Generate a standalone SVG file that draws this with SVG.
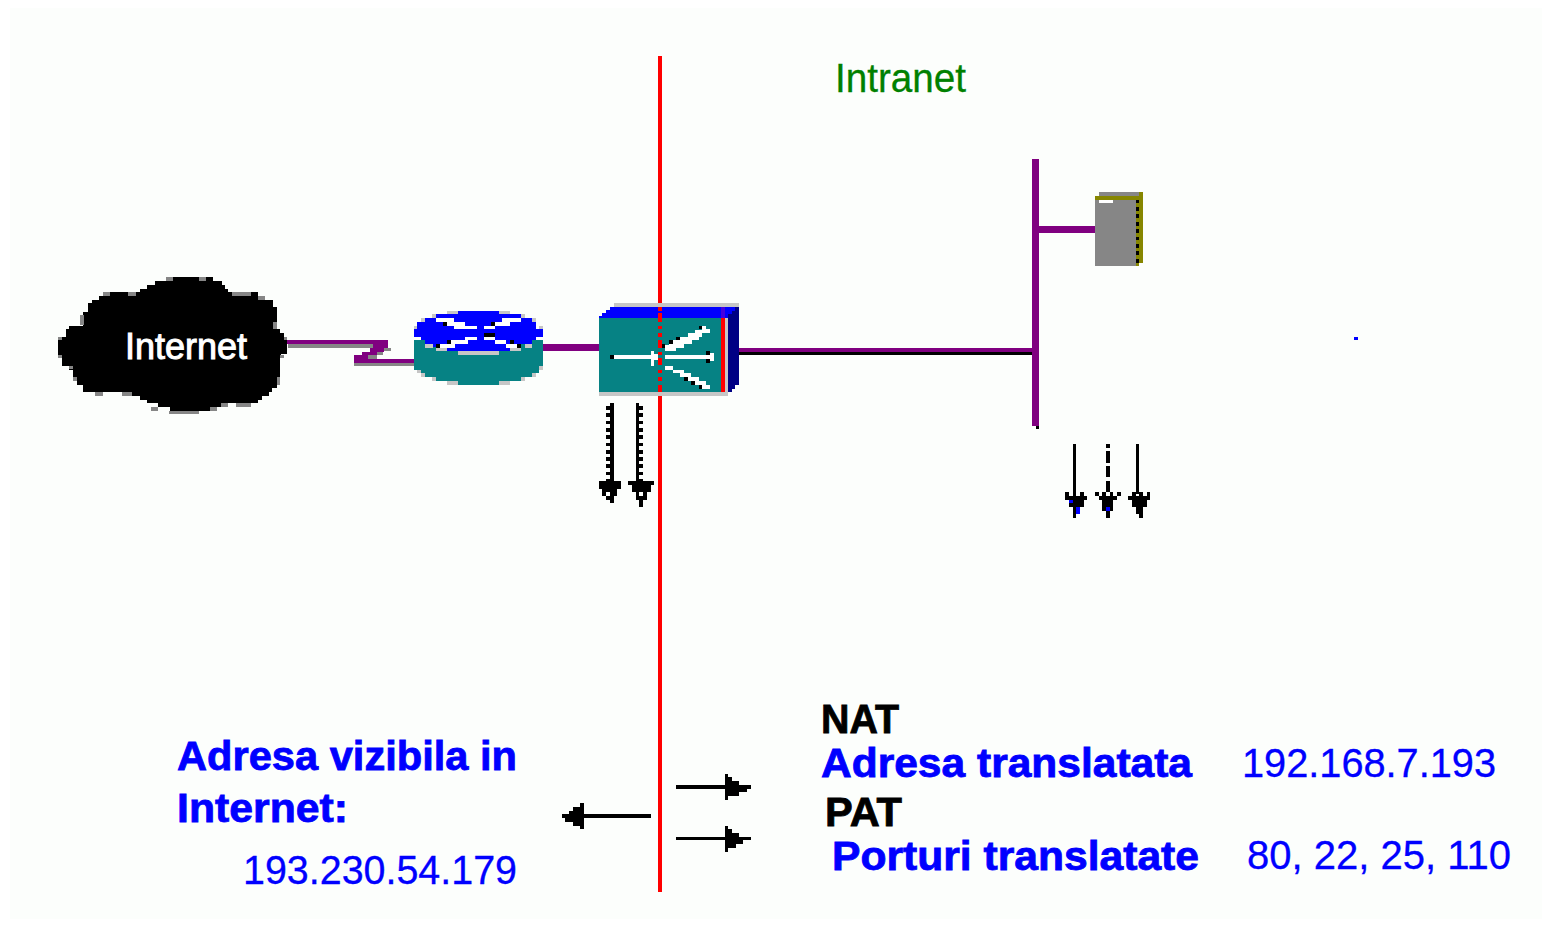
<svg xmlns="http://www.w3.org/2000/svg" width="1544" height="926" viewBox="0 0 1544 926">
<style>
text{font-family:"Liberation Sans",Arial,sans-serif;font-size:40px;white-space:pre}
.b{font-weight:bold;stroke-width:.8px}
.blue{fill:#0000ff}
.d{fill:#0000ff;stroke:#0000ff;stroke-width:.3px}
.bb{fill:#0000ff;stroke:#0000ff}
.k{fill:#000;stroke:#000}
.purple{fill:#800080}
.gray{fill:#868686}
.lg{fill:#c6c6c6}
.teal{fill:#068284}
.bl{fill:#0000ff}
.navy{fill:#000084}
.red{fill:#ff0000}
.olive{fill:#868600}
.blk{fill:#000}
.wf{fill:#fff}
.bg{fill:#fcfefc}
</style>
<rect width="1544" height="926" fill="#ffffff"/>
<rect class="bg" x="10" y="8" width="1532" height="911"/>

<g id="connectors" shape-rendering="crispEdges">
  <rect class="gray" x="288" y="344" width="85" height="4"/>
  <path class="gray" d="M384,348h7v3h-7zM377,352h6v3h-6zM368,355h9v4h-9zM354,363h60v3h-60z"/>
  <path class="purple" d="M284,340H388V348H384V352H377V355H368V359H414V363H354V355H362V352H370V348H373V344H284Z"/>
  <rect class="purple" x="543" y="344" width="56" height="7"/>
  <rect class="purple" x="739" y="348" width="293" height="3.500"/>
  <rect class="blk" x="739" y="351.500" width="293" height="3.500"/>
  <rect class="purple" x="1032" y="159" width="7" height="267"/>
  <rect class="blk" x="1036" y="426" width="3" height="3"/>
  <rect class="purple" x="1039" y="226" width="56" height="7"/>
</g>

<g id="boundary" shape-rendering="crispEdges">
  <rect class="red" x="658" y="56" width="4" height="247"/>
  <rect class="red" x="658" y="396" width="4" height="496"/>
</g>

<g id="cloud">
  <g transform="translate(40 260) scale(.33333)" shape-rendering="crispEdges">
    <path class="blk" d="M55,240H66V230H78V208H88V198H130V155H143V130H155V120H178V108H210V97H300V87H322V75H345V62H380V52H520V62H545V75H555V87H565V97H655V108H675V120H700V140H710V208H720V218H732V240H742V282H722V295H720V375H710V385H697V395H687V408H665V420H655V430H560V440H530V452H390V442H355V430H322V420H300V408H275V395H190V395H130V375H110V350H100V330H88V318H66V295H55Z"/>
    <path class="gray" d="M378,52h22v10h-22zM478,52h20v10h-20zM190,97h20v11h-20zM265,97h23v11h-23zM575,97h57v11h-57zM655,108h20v11h-20zM245,396h30v12h-30zM165,396h23v12h-23zM588,430h44v10h-44zM388,452h89v10h-89zM333,442h21v10h-21zM510,442h20v10h-20zM543,430h20v10h-20zM120,165h11v30h-11zM700,186h10v20h-10zM732,230h10v10h-10zM720,285h11v10h-11zM711,350h9v25h-9zM88,318h11v10h-11zM55,230h11v10h-11zM55,285h11v10h-11zM100,350h10v12h-10z"/>
  </g>
  <text x="125" y="359" fill="#ffffff" stroke="#ffffff" stroke-width="1" textLength="122" lengthAdjust="spacingAndGlyphs" style="font-size:36px">Internet</text>
</g>

<g id="router">
  <g transform="translate(400 290) scale(.33333)" shape-rendering="crispEdges">
    <path class="teal" d="M42,150H429V240H418V250H407V262H363V273H297V285H174V273H108V262H64V250H52V240H42Z"/>
    <path class="bl" d="M174,63H297V72H363V84H396V96H408V118H429V140H408V150H396V162H363V172H330V183H141V172H98V162H75V150H64V140H42V118H52V96H75V84H108V72H174Z"/>
    <path class="lg" d="M141,63h33v9h-33zM297,63h33v9h-33zM97,72h11v12h-11zM363,72h12v12h-12zM64,84h11v12h-11zM396,84h12v12h-12zM42,108h10v10h-10zM418,108h11v10h-11zM75,162h23v12h-23zM375,162h22v12h-22zM108,174h33v9h-33zM330,174h33v9h-33zM174,183h123v12h-123zM141,273h33v12h-33zM297,273h33v12h-33zM97,262h11v11h-11zM363,262h12v11h-12zM64,250h11v11h-11zM396,250h11v11h-11zM52,240h11v10h-11zM418,228h11v12h-11z"/>
    <path class="wf" d="M108,84H162V96H195V108H232V118H162V108H141V96H108ZM362,84V96H330V108H285V118H252V108H285V96H305V84ZM120,162H153V150H195V140H232V150H205V162H165V174H120ZM350,174H318V162H285V150H252V140H285V150H318V162H350Z"/>
    <path class="blk" d="M130,96h11v12h-11zM274,96h11v12h-11zM252,129h33v11h-33zM141,150h12v12h-12zM330,150h12v12h-12zM108,162h12v12h-12zM352,162h12v12h-12z"/>
  </g>
</g>

<g id="firewall" shape-rendering="crispEdges">
  <polygon class="lg" points="614,303 739,303 739,307 614,307"/>
  <polygon class="bl" points="599,318 599,316 602,316 602,313 606,313 606,310 610,310 610,307 739,307 739,318"/>
  <polygon class="navy" points="728,318 728,392 732,392 732,389 735,389 735,385 739,385 739,307 735,307 735,311 732,311 732,314 728,314"/>
  <rect class="teal" x="599" y="318" width="129" height="74"/>
  <rect class="lg" x="725" y="318" width="3" height="74"/>
  <rect class="red" x="721" y="318" width="4" height="74"/>
  <rect fill="#4400e0" x="721" y="307" width="4" height="11"/>
  <rect class="lg" x="599" y="392" width="129" height="4"/>
  <path class="red" d="M658,307h4v4h-4zM658,313h4v9h-4zM658,326h4v3h-4zM658,333h4v4h-4zM658,340h4v8h-4zM658,352h4v3h-4zM658,358h4v7h-4zM658,370h4v3h-4zM658,377h4v4h-4zM658,385h4v7h-4z"/>
  <path class="wf" d="M613,355H651V351H654V354H658V360H654V366H651V359H613Z"/>
  <path class="wf" d="M665,355H710V353H714V361H710V359H665Z"/>
  <path class="wf" d="M665,345H669V344H673V340H680V337H688V333H695V330H702V326H706V329H710V333H702V337H699V340H692V344H684V348H676V351H665Z"/>
  <path class="wf" d="M665,366H673V370H684V373H691V377H699V381H706V385H710V389H702V385H695V381H688V377H680V373H673V370H665Z"/>
  <path class="blk" d="M610,355h4v4h-4zM706,351h4v4h-4zM706,359h4v4h-4zM662,344h3v4h-3zM669,340h4v4h-4zM676,337h4v3h-4zM699,326h3v3h-3zM684,377h4v4h-4zM691,381h4v4h-4zM699,385h3v4h-3z"/>
</g>

<g id="server" shape-rendering="crispEdges">
  <rect class="gray" x="1099" y="192" width="40" height="4"/>
  <rect class="olive" x="1139" y="192" width="4" height="71"/>
  <rect class="gray" x="1095" y="196" width="41" height="70"/>
  <rect class="olive" x="1095" y="196" width="44" height="4"/>
  <rect class="olive" x="1136" y="200" width="3" height="66"/>
  <rect class="wf" x="1099" y="200" width="14" height="3"/>
  <path class="blk" d="M1136,200h3v3h-3zM1136,207h3v4h-3zM1136,214h3v4h-3zM1136,222h3v4h-3zM1136,229h3v4h-3zM1136,237h3v3h-3zM1136,244h3v4h-3zM1136,251h3v4h-3zM1136,259h3v4h-3z"/>
</g>

<g id="arrows" shape-rendering="crispEdges">
  <rect class="blk" x="610" y="403" width="4" height="80"/>
  <path d="M608,406V482" stroke="#000" stroke-width="4" stroke-dasharray="3.700 3.600" fill="none"/>
  <rect class="blk" x="636" y="403" width="3" height="80"/>
  <path d="M641,406V482" stroke="#000" stroke-width="4" stroke-dasharray="3.700 3.600" fill="none"/>
  <g transform="translate(400 290) scale(.33333)">
    <path class="blk" d="M597,573H663V597H651V618H641V640H630V630H618V618H606V597H597Z"/>
    <rect class="bg" x="618" y="606" width="12" height="12"/>
    <path class="blk" d="M684,573H762V585H753V606H741V630H729V650H717V630H708V606H696V585H684Z"/>
    <rect class="bg" x="717" y="606" width="12" height="12"/>
  </g>
  <rect class="blk" x="1073" y="444" width="3" height="50"/>
  <path d="M1108,444V492" stroke="#000" stroke-width="4" stroke-dasharray="4 3 12 3 11 4 11" fill="none"/>
  <rect class="blk" x="1136" y="444" width="3" height="50"/>
  <g transform="translate(1020 410) scale(.33333)">
    <path class="blk" d="M135,246H147V258H159V246H168V258H180V246H192V258H201V270H192V290H180V312H168V323H159V290H147V270H135Z"/>
    <path class="bl" d="M147,270h12v10h-12zM168,291h12v21h-12z"/>
    <path class="blk" d="M225,246H237V258H246V246H258V258H270V246H280V258H291V246H303V258H291V270H279V303H270V323H258V303H246V270H237V258H225Z"/>
    <rect class="bl" x="258" y="291" width="12" height="12"/>
    <path class="blk" d="M324,258H336V246H348V258H357V246H369V258H381V246H390V270H381V290H369V323H357V312H348V290H336V270H324Z"/>
  </g>
  <rect class="blk" x="584" y="814" width="67" height="4"/>
  <polygon class="blk" points="562,814 569,814 569,811 573,811 573,807 580,807 580,803 584,803 584,829 580,829 580,826 573,826 573,822 565,822 565,818 562,818"/>
  <rect class="blk" x="676" y="785" width="49" height="4"/>
  <polygon class="blk" points="725,774 728,774 728,777 732,777 732,781 739,781 739,785 751,785 751,789 747,789 747,792 739,792 739,796 728,796 728,800 725,800"/>
  <rect class="blk" x="676" y="837" width="49" height="3"/>
  <polygon class="blk" points="725,826 728,826 728,829 732,829 732,833 739,833 739,837 751,837 751,840 743,840 743,844 736,844 736,848 728,848 728,852 725,852"/>
</g>

<g id="labels">
  <text x="835" y="92" fill="#008000" stroke="#008000" stroke-width=".3" textLength="131" lengthAdjust="spacingAndGlyphs">Intranet</text>
  <rect class="blue" x="1354" y="337" width="4" height="3"/>
  <text class="b bb" x="177" y="770" textLength="340" lengthAdjust="spacingAndGlyphs">Adresa vizibila in</text>
  <text class="b bb" x="177" y="822" textLength="171" lengthAdjust="spacingAndGlyphs">Internet:</text>
  <text class="d" x="243" y="884" textLength="274" lengthAdjust="spacingAndGlyphs">193.230.54.179</text>
  <text class="b k" x="821" y="733" textLength="78" lengthAdjust="spacingAndGlyphs">NAT</text>
  <text class="b bb" x="821" y="777" textLength="371" lengthAdjust="spacingAndGlyphs">Adresa translatata</text>
  <text class="d" x="1242" y="777" textLength="254" lengthAdjust="spacingAndGlyphs">192.168.7.193</text>
  <text class="b k" x="825" y="826" textLength="77" lengthAdjust="spacingAndGlyphs">PAT</text>
  <text class="b bb" x="832" y="870" textLength="367" lengthAdjust="spacingAndGlyphs">Porturi translatate</text>
  <text class="d" x="1247" y="869" textLength="264" lengthAdjust="spacingAndGlyphs">80, 22, 25, 110</text>
</g>
</svg>
